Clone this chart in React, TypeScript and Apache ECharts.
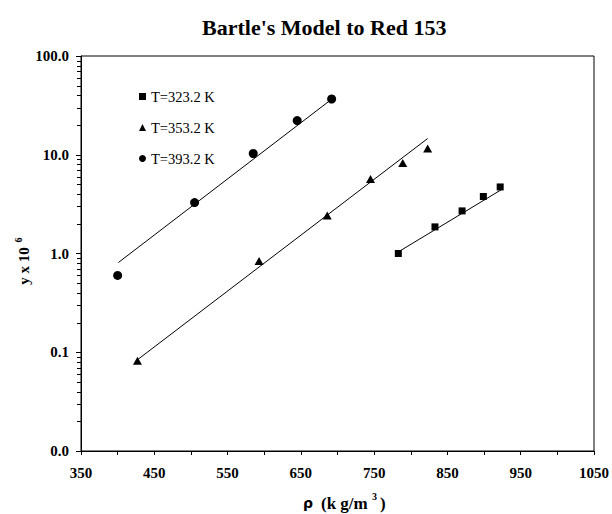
import React, { useEffect, useRef } from "react";
import * as echarts from "echarts";

// ---- data ----
const seriesNames = ["T=323.2 K", "T=353.2 K", "T=393.2 K"];

const rho323 = [783, 833, 870, 899, 922];
const y323 = [1.0, 1.86, 2.7, 3.78, 4.72];

const rho353 = [427, 593, 686, 745, 789, 823];
const y353 = [0.082, 0.84, 2.43, 5.69, 8.26, 11.6];

const rho393 = [400, 505, 585, 645, 692];
const y393 = [0.6, 3.28, 10.3, 22.2, 36.7];

// fitted model lines (end points)
const fitRho323 = [785, 924];
const fitY323 = [1.06, 4.45];
const fitRho353 = [428, 823];
const fitY353 = [0.085, 14.6];
const fitRho393 = [401, 692];
const fitY393 = [0.81, 36.5];

// axis ticks
const xMin = 350;
const xMax = 1050;
const xTickStep = 50;
const yMin = 0.01;
const yMax = 100;
const yDecades = [0.01, 0.1, 1, 10];
const yMinorMultipliers = [2, 3, 4, 5, 6, 7, 8, 9];

const FONT = "'Liberation Serif', 'Times New Roman', serif";

const zip = (xs: number[], ys: number[]) => xs.map((x, i) => [x, ys[i]]);

export default function App() {
  const ref = useRef<HTMLDivElement>(null);

  useEffect(() => {
    if (!ref.current) return;
    const chart = echarts.init(ref.current, undefined, { renderer: "svg" });

    const markerStyle = { color: "#000", opacity: 1 };
    const lineStyle = { color: "#000", width: 1 };
    const bold = { fontFamily: FONT, fontWeight: "bold", fill: "#000" } as any;

    const labelGraphics: any[] = [
      {
        type: "text",
        x: 24,
        y: 266,
        rotation: Math.PI / 2,
        style: { ...bold, text: "y x 10", fontSize: 15, align: "center", verticalAlign: "middle" },
      },
      {
        type: "text",
        x: 18,
        y: 240,
        rotation: Math.PI / 2,
        style: { ...bold, text: "6", fontSize: 10, align: "center", verticalAlign: "middle" },
      },
      {
        type: "text",
        x: 303,
        y: 503,
        style: { ...bold, text: "ρ", fontFamily: "'DejaVu Sans', sans-serif", fontSize: 14, align: "left", verticalAlign: "middle" },
      },
      {
        type: "text",
        x: 321,
        y: 503,
        style: { ...bold, text: "(k g/m", fontSize: 17, align: "left", verticalAlign: "middle" },
      },
      {
        type: "text",
        x: 372,
        y: 496,
        style: { ...bold, text: "3", fontSize: 10, align: "left", verticalAlign: "middle" },
      },
      {
        type: "text",
        x: 380,
        y: 503,
        style: { ...bold, text: ")", fontSize: 17, align: "left", verticalAlign: "middle" },
      },
    ];

    chart.setOption({
      animation: false,
      backgroundColor: "#fff",
      textStyle: { fontFamily: FONT, color: "#000" },
      title: {
        text: "Bartle's Model to Red 153",
        left: 197,
        top: 11,
        textStyle: { fontFamily: FONT, fontSize: 22, fontWeight: "bold", color: "#000" },
      },
      legend: {
        data: seriesNames,
        orient: "vertical",
        left: 139,
        top: 89,
        padding: 0,
        itemGap: 16,
        itemWidth: 7,
        itemHeight: 7,
        textStyle: { fontFamily: FONT, fontSize: 14.5, color: "#000" },
      },
      grid: {
        left: 81,
        right: 18,
        top: 56,
        bottom: 63,
        show: true,
        borderColor: "#000",
        borderWidth: 1,
      },
      xAxis: {
        type: "value",
        min: xMin,
        max: xMax,
        interval: xTickStep,
        axisLine: { show: true, lineStyle: { color: "#000", width: 1 } },
        axisTick: { show: true, length: 4, lineStyle: { color: "#000", width: 1 } },
        splitLine: { show: false },
        axisLabel: {
          margin: 14,
          fontFamily: FONT,
          fontSize: 15,
          fontWeight: "bold",
          color: "#000",
          formatter: (v: number) => ((v - xMin) % 100 === 0 ? String(v) : ""),
        },
      },
      yAxis: {
        type: "log",
        logBase: 10,
        min: yMin,
        max: yMax,
        axisLine: { show: true, lineStyle: { color: "#000", width: 1 } },
        axisTick: { show: true, length: 5, lineStyle: { color: "#000", width: 1 } },
        splitLine: { show: false },
        axisLabel: {
          margin: 12,
          fontFamily: FONT,
          fontSize: 15,
          fontWeight: "bold",
          color: "#000",
          formatter: (v: number) => v.toFixed(1),
        },
      },
      graphic: labelGraphics,
      series: [
        {
          name: seriesNames[0],
          type: "scatter",
          symbol: "rect",
          symbolSize: 7,
          itemStyle: markerStyle,
          data: zip(rho323, y323),
          z: 3,
        },
        {
          name: seriesNames[1],
          type: "scatter",
          symbol: "triangle",
          symbolSize: [9, 8],
          itemStyle: markerStyle,
          data: zip(rho353, y353),
          z: 3,
        },
        {
          name: seriesNames[2],
          type: "scatter",
          symbol: "circle",
          symbolSize: 9,
          itemStyle: markerStyle,
          data: zip(rho393, y393),
          z: 3,
        },
        {
          name: "fit323",
          type: "line",
          showSymbol: false,
          symbol: "none",
          lineStyle,
          data: zip(fitRho323, fitY323),
          z: 1,
        },
        {
          name: "fit353",
          type: "line",
          showSymbol: false,
          symbol: "none",
          lineStyle,
          data: zip(fitRho353, fitY353),
          z: 1,
        },
        {
          name: "fit393",
          type: "line",
          showSymbol: false,
          symbol: "none",
          lineStyle,
          data: zip(fitRho393, fitY393),
          z: 1,
        },
      ],
    });

    // log-scale minor ticks (2..9 in each decade), positioned through the axis scale
    const tickGraphics: any[] = [];
    yDecades.forEach((d) =>
      yMinorMultipliers.forEach((m) => {
        const p = chart.convertToPixel({ gridIndex: 0 }, [xMin, m * d]) as number[];
        if (!p) return;
        const yy = Math.round(p[1]) + 0.5;
        const xx = Math.round(p[0]);
        tickGraphics.push({
          type: "line",
          z: 10,
          shape: { x1: xx - 4, y1: yy, x2: xx, y2: yy },
          style: { stroke: "#000", lineWidth: 1 },
        });
      })
    );
    chart.setOption({ graphic: [...labelGraphics, ...tickGraphics] });

    return () => chart.dispose();
  }, []);

  return (
    <div
      ref={ref}
      style={{ position: "fixed", left: 0, top: 0, width: 612, height: 514, background: "#fff" }}
    />
  );
}
